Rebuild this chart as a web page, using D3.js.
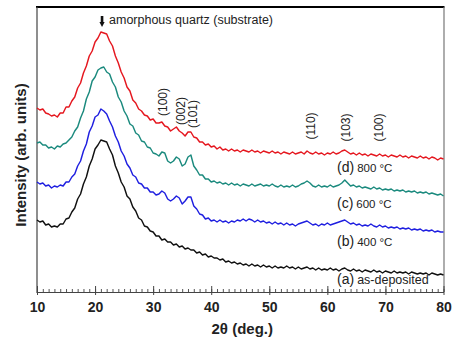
<!DOCTYPE html>
<html>
<head>
<meta charset="utf-8">
<script src="https://cdn.jsdelivr.net/npm/d3@7"></script>
<style>
  body { margin: 0; background: #fff; }
  svg { display: block; }
  text { font-family: "Liberation Sans", Arial, Helvetica, sans-serif; }
</style>
</head>
<body>
<svg id="chart" width="454" height="345"></svg>
<script>
// XRD patterns, 2θ sampled from 10° to 80° every 0.5°
const angleStart = 10;
const angleStep = 0.5;

// (d) 800 °C
const annealed800 = [184,182,183,179,178,176,177,175,179,179,185,185,191,195,204,209,219,226,236,241,
  250,254,260,259,258,251,246,236,229,220,214,205,201,192,189,183,181,177,176,172,
  173,169,169,170,166,165,161,163,165,161,159,156,160,160,155,154,150,150,147,148,
  145,146,143,145,142,143,141,143,141,142,140,142,141,140,142,140,141,139,141,140,
  139,141,139,140,138,140,139,138,140,138,139,140,138,141,139,138,140,138,139,137,
  139,138,140,138,139,141,142,140,138,139,137,139,137,138,136,138,137,136,138,136,
  137,135,137,136,135,137,135,136,134,136,135,134,136,134,135,133,135,134,132,134,133];

// (c) 600 °C
const annealed600 = [149,150,147,147,144,145,143,146,145,148,149,152,155,161,165,174,181,193,200,211,
  215,222,224,225,220,218,210,205,195,190,181,176,168,166,159,157,151,150,145,144,
  139,138,136,140,139,131,129,131,135,133,126,128,135,137,126,122,117,117,113,113,
  110,111,109,110,108,109,107,109,107,108,106,108,107,106,108,106,107,108,106,107,
  106,108,106,105,107,105,106,105,107,105,106,108,109,111,109,106,105,107,105,106,
  105,107,105,106,107,109,112,109,106,107,105,106,104,105,104,103,105,103,104,102,
  103,102,103,101,102,101,102,100,101,100,101,99,100,99,100,98,99,98,97,98,96];

// (b) 400 °C
const annealed400 = [110,108,109,106,107,104,106,105,107,106,110,110,115,118,126,131,141,148,160,166,
  175,177,183,181,178,171,165,156,150,141,136,128,124,117,115,109,108,104,104,100,
  100,97,98,101,99,93,91,93,96,94,88,91,95,95,86,83,78,77,73,74,
  71,72,70,72,70,71,69,71,70,72,71,73,71,73,72,70,72,70,71,69,
  70,68,70,68,69,67,69,67,68,66,68,69,70,71,69,67,68,66,68,67,
  69,67,68,69,70,71,72,70,68,69,67,68,66,67,66,68,66,65,67,65,
  66,64,65,64,65,63,64,63,64,62,63,62,63,61,62,61,62,60,61,60,60];

// (a) as-deposited
const asDeposited = [72,70,71,67,68,65,66,65,68,68,73,74,80,84,93,98,108,115,126,133,
  143,147,152,151,150,143,137,126,119,110,105,96,93,85,81,74,72,66,65,61,
  60,56,56,52,53,50,50,47,48,45,46,43,44,42,42,39,40,37,38,35,
  36,34,34,32,33,30,31,29,30,28,29,27,28,26,28,26,27,25,27,25,
  26,24,26,24,25,24,26,24,25,23,25,23,24,25,23,24,22,24,22,23,
  22,24,22,23,21,23,24,22,21,23,21,22,20,22,21,20,22,20,21,19,
  21,20,19,21,19,20,19,20,18,20,19,18,19,18,19,17,19,18,17,18,17];

const seriesData = [asDeposited, annealed400, annealed600, annealed800];
const seriesColors = ["#111111", "#1f1fe0", "#1b8a7e", "#e5171f"];
const seriesTags = ["(a)", "(b)", "(c)", "(d)"];
const seriesConditions = ["as-deposited", "400 °C", "600 °C", "800 °C"];

const peakLabels = ["(100)", "(002)", "(101)", "(110)", "(103)", "(100)"];
const peakLabelAngles = [31.7, 34.7, 36.8, 57.2, 63.2, 68.8];

const xTicksMajor = [10, 20, 30, 40, 50, 60, 70, 80];

// ---- layout ----
const plot = { left: 37, right: 443.5, top: 7, bottom: 292 };

const svg = d3.select("#chart");

const x = d3.scaleLinear().domain([10, 80]).range([plot.left, plot.right]);
const y = d3.scaleLinear().domain([0, 285]).range([plot.bottom, plot.top]);

// frame: heavy top rule, light right rule, left axis
svg.append("line").attr("x1", plot.left - 1).attr("x2", plot.right + 1)
  .attr("y1", plot.top).attr("y2", plot.top)
  .attr("stroke", "#000").attr("stroke-width", 2);
svg.append("line").attr("x1", plot.right + 0.5).attr("x2", plot.right + 0.5)
  .attr("y1", plot.top).attr("y2", plot.bottom)
  .attr("stroke", "#777").attr("stroke-width", 1.2);
svg.append("line").attr("x1", plot.left).attr("x2", plot.left)
  .attr("y1", plot.top).attr("y2", plot.bottom + 1)
  .attr("stroke", "#444").attr("stroke-width", 1.2);

// traces
const line = d3.line()
  .x((d, i) => x(angleStart + i * angleStep))
  .y(d => y(d));

svg.append("g").selectAll("path")
  .data(seriesData)
  .join("path")
  .attr("d", line)
  .attr("fill", "none")
  .attr("stroke", (d, i) => seriesColors[i])
  .attr("stroke-width", 1.45)
  .attr("stroke-linejoin", "round");

// bottom axis: minor ticks every degree pointing inward, major ticks crossing
const gx = svg.append("g").attr("transform", `translate(0,${plot.bottom})`);
gx.append("g")
  .call(d3.axisBottom(x).tickValues(d3.range(10, 81, 1)).tickSize(-3).tickSizeOuter(0).tickFormat(""))
  .call(g => g.select(".domain").attr("stroke", "#444").attr("stroke-width", 1.2))
  .call(g => g.selectAll(".tick line").attr("stroke", "#555"));
gx.append("g")
  .call(d3.axisBottom(x).tickValues(xTicksMajor).tickSize(0).tickPadding(10).tickFormat(d3.format("d")))
  .call(g => g.select(".domain").remove())
  .call(g => g.selectAll(".tick line").remove())
  .call(g => g.selectAll(".tick").append("line")
      .attr("y1", -6).attr("y2", 3).attr("stroke", "#444").attr("stroke-width", 1))
  .call(g => g.selectAll(".tick text")
      .attr("font-size", 14).attr("font-weight", "bold").attr("fill", "#222")
      .attr("font-family", "'Liberation Sans', Arial, sans-serif"));

// axis titles
svg.append("text")
  .attr("x", (plot.left + plot.right) / 2 + 2).attr("y", 334)
  .attr("text-anchor", "middle").attr("font-size", 15).attr("font-weight", "bold").attr("fill", "#222")
  .text("2θ (deg.)");
svg.append("text")
  .attr("transform", `translate(26,155) rotate(-90)`)
  .attr("text-anchor", "middle").attr("font-size", 15).attr("font-weight", "bold").attr("fill", "#222")
  .text("Intensity (arb. units)");

// substrate marker
const arrowX = x(21.2);
svg.append("path")
  .attr("d", `M${arrowX - 1.3},16 H${arrowX + 1.3} V22 H${arrowX + 2.6} L${arrowX},27 L${arrowX - 2.6},22 H${arrowX - 1.3} Z`)
  .attr("fill", "#111");
svg.append("text")
  .attr("x", arrowX + 7).attr("y", 24)
  .attr("font-size", 12.5).attr("fill", "#222")
  .text("amorphous quartz (substrate)");

// reflection indices
const peakLabelY = [102, 111, 114, 126, 127.5, 127.5];
svg.append("g").selectAll("text")
  .data(peakLabels)
  .join("text")
  .attr("transform", (d, i) => `translate(${x(peakLabelAngles[i])},${peakLabelY[i]}) rotate(-90)`)
  .attr("text-anchor", "middle").attr("dy", "0.35em")
  .attr("font-size", 12).attr("fill", "#222")
  .text(d => d);

// series captions
const captionY = [284, 246, 208, 172];
const captions = svg.append("g").selectAll("text")
  .data(seriesTags)
  .join("text")
  .attr("x", 337).attr("y", (d, i) => captionY[i])
  .attr("fill", "#222");
captions.append("tspan").attr("font-size", 14).text(d => d);
captions.append("tspan").attr("font-size", (d, i) => i === 0 ? 12.5 : 11.5)
  .attr("dx", 3)
  .text((d, i) => seriesConditions[i]);
</script>
</body>
</html>
